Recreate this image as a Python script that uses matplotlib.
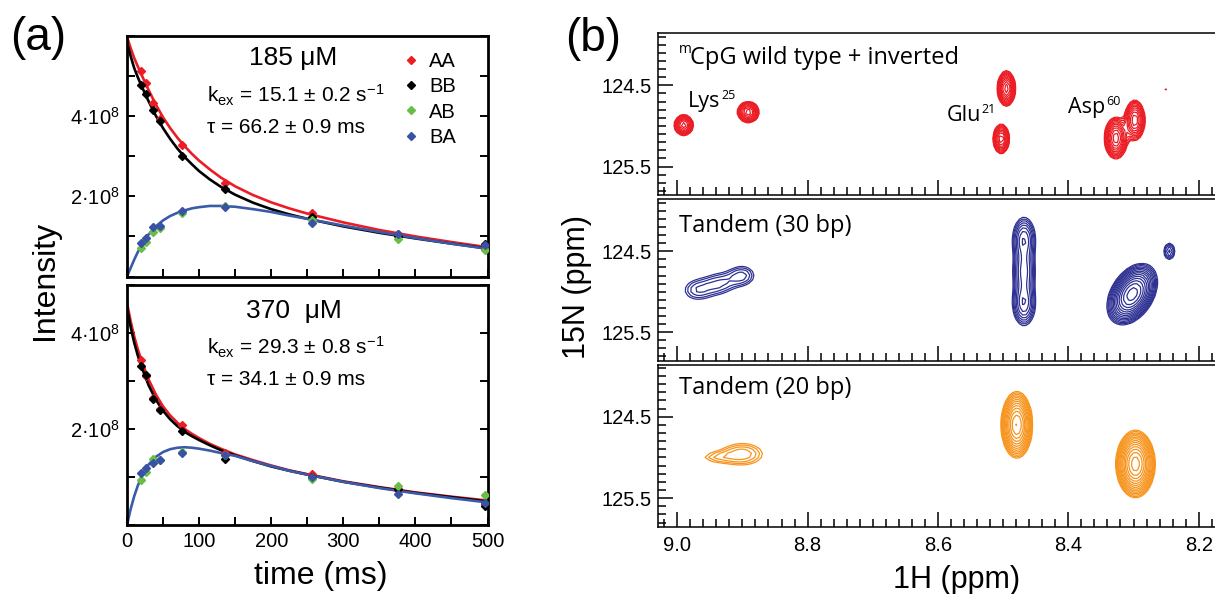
import numpy as np
import matplotlib
matplotlib.use('Agg')
import matplotlib.pyplot as plt
from matplotlib.ticker import MultipleLocator, FixedLocator, NullFormatter, FormatStrFormatter
from matplotlib.lines import Line2D

plt.rcParams['font.family'] = ['Liberation Sans', 'DejaVu Sans']
plt.rcParams['mathtext.fontset'] = 'custom'
plt.rcParams['mathtext.rm'] = 'Liberation Sans'
plt.rcParams['mathtext.it'] = 'Liberation Sans:italic'
plt.rcParams['mathtext.bf'] = 'Liberation Sans:bold'

W, H = 1215, 594

# ---------------- panel (a): exchange curves, intensity in units of 1e8
t_pts = [20, 26, 36, 46, 76, 136, 256, 376, 496]
aa_185 = [5.12, 4.83, 4.33, 3.92, 3.29, 2.33, 1.58, 1.07, 0.69]
bb_185 = [4.78, 4.55, 4.16, 3.88, 3.00, 2.19, 1.48, 1.00, 0.82]
ab_185 = [0.72, 0.86, 1.11, 1.20, 1.58, 1.75, 1.40, 0.94, 0.67]
ba_185 = [0.84, 0.95, 1.23, 1.27, 1.64, 1.73, 1.33, 1.07, 0.78]

aa_370 = [3.44, 3.10, 2.65, 2.42, 2.08, 1.50, 1.06, 0.73, 0.43]
bb_370 = [3.31, 3.12, 2.62, 2.39, 1.95, 1.38, 1.00, 0.75, 0.39]
ab_370 = [0.94, 1.10, 1.38, 1.36, 1.52, 1.45, 0.95, 0.81, 0.62]
ba_370 = [1.08, 1.19, 1.29, 1.35, 1.49, 1.45, 0.99, 0.65, 0.45]

t_fit = [0, 5, 10, 15, 20, 30, 40, 50, 60, 70, 80, 90, 100, 115, 130, 150,
         175, 200, 225, 250, 300, 350, 400, 450, 500]
fit_aa_185 = [5.98, 5.70, 5.45, 5.24, 5.04, 4.65, 4.29, 3.97, 3.70, 3.46, 3.25, 3.06, 2.89,
              2.67, 2.47, 2.25, 2.03, 1.85, 1.70, 1.57, 1.35, 1.16, 1.00, 0.86, 0.73]
fit_bb_185 = [5.85, 5.50, 5.20, 4.97, 4.76, 4.37, 4.01, 3.70, 3.43, 3.19, 2.98, 2.80, 2.63,
              2.42, 2.24, 2.04, 1.84, 1.68, 1.55, 1.44, 1.25, 1.09, 0.95, 0.82, 0.70]
fit_ab_185 = [0.00, 0.21, 0.42, 0.61, 0.78, 1.05, 1.25, 1.40, 1.51, 1.59, 1.65, 1.70, 1.73,
              1.76, 1.76, 1.74, 1.68, 1.61, 1.52, 1.44, 1.27, 1.11, 0.96, 0.82, 0.69]

fit_aa_370 = [4.63, 4.25, 3.93, 3.66, 3.43, 3.03, 2.72, 2.47, 2.28, 2.13, 2.00, 1.90, 1.81,
              1.69, 1.59, 1.47, 1.35, 1.24, 1.14, 1.06, 0.91, 0.79, 0.68, 0.59, 0.51]
fit_bb_370 = [4.54, 4.13, 3.80, 3.53, 3.30, 2.91, 2.61, 2.38, 2.20, 2.06, 1.94, 1.85, 1.77,
              1.66, 1.56, 1.45, 1.33, 1.22, 1.13, 1.05, 0.90, 0.78, 0.67, 0.58, 0.49]
fit_ab_370 = [0.00, 0.33, 0.60, 0.82, 1.00, 1.26, 1.42, 1.52, 1.58, 1.61, 1.62, 1.61, 1.59,
              1.55, 1.50, 1.44, 1.33, 1.23, 1.13, 1.05, 0.90, 0.77, 0.66, 0.56, 0.47]

RED, GREEN, BLUE_PT, BLUE_LN = '#ec1c24', '#6abd45', '#3953a4', '#3b5ba9'

# ---------------- panel (b): HSQC peaks (1H ppm, 15N ppm, widths, height, tilt)
wt_h = [8.990, 8.891, 8.495, 8.503, 8.327, 8.298, 8.252]
wt_n = [124.99, 124.83, 124.54, 125.16, 125.15, 124.93, 124.56]
wt_wh = [0.0078, 0.0088, 0.0070, 0.0066, 0.0090, 0.0082, 0.0035]
wt_wn = [0.066, 0.068, 0.110, 0.095, 0.130, 0.130, 0.035]
wt_amp = [6.0, 6.0, 7.0, 6.0, 7.0, 6.0, 1.3]
wt_tilt = [0, 0, 0, 0, 0, 0, 0]

t30_h = [8.970, 8.935, 8.900, 8.468, 8.468, 8.468, 8.302, 8.245]
t30_n = [124.98, 124.90, 124.80, 124.35, 124.75, 125.15, 125.03, 124.50]
t30_wh = [0.018, 0.018, 0.016, 0.011, 0.011, 0.011, 0.016, 0.0065]
t30_wn = [0.110, 0.110, 0.100, 0.170, 0.170, 0.170, 0.170, 0.080]
t30_amp = [1.6, 1.6, 1.8, 3.5, 3.0, 3.5, 12.0, 2.2]
t30_tilt = [0, 0, 0, 0, 0, 0, 0.04, 0]

t20_h = [8.900, 8.945, 8.479, 8.297]
t20_n = [124.96, 125.00, 124.60, 125.08]
t20_wh = [0.026, 0.020, 0.0115, 0.0135]
t20_wn = [0.110, 0.060, 0.195, 0.185]
t20_amp = [2.0, 1.0, 9.0, 12.0]
t20_tilt = [0, 0, 0, 0]

NMR_LEVELS = 1.2 ** np.arange(0, 16)
hx = np.arange(8.10, 9.10, 0.005)
ny = np.arange(123.60, 126.10, 0.05)
HX, NY = np.meshgrid(hx, ny)


def spectrum(h0, n0, wh, wn, amp, tilt):
    z = np.zeros_like(HX)
    for a, b, c, d, e, f in zip(h0, n0, wh, wn, amp, tilt):
        dx = HX - a - f * (NY - b)
        z += e * np.exp(-0.5 * (dx / c) ** 2 - 0.5 * ((NY - b) / d) ** 2)
    return z


def rect(left, top, right, bottom):
    return [left / W, 1 - bottom / H, (right - left) / W, (bottom - top) / H]


def ftext(x, y, s, **kw):
    return fig.text(x / W, 1 - y / H, s, **kw)


fig = plt.figure(figsize=(W / 100, H / 100), dpi=100)


def kinetics_panel(ax, ymax, fits, pts):
    for y, c in zip(fits, [RED, 'black', BLUE_LN]):
        ax.plot(t_fit, y, color=c, lw=1.9, zorder=2)
    for y, c in zip(pts, [RED, 'black', GREEN, BLUE_PT]):
        ax.plot(t_pts, y, ls='none', marker='D', ms=4.2, color=c, mec=c, zorder=3)
    ax.set_xlim(0, 500)
    ax.set_ylim(0, ymax)
    ax.xaxis.set_major_locator(MultipleLocator(100))
    ax.xaxis.set_minor_locator(MultipleLocator(50))
    ax.yaxis.set_major_locator(FixedLocator([2, 4]))
    ax.yaxis.set_minor_locator(MultipleLocator(1))
    ax.set_yticklabels(['2·10$^{8}$', '4·10$^{8}$'])
    ax.tick_params(which='both', direction='in', length=6, width=1.4,
                   right=True, top=False, labelsize=14.5)
    ax.tick_params(axis='y', pad=5)
    ax.tick_params(axis='x', pad=5)
    for s in ax.spines.values():
        s.set_linewidth(2.0)


ax1 = fig.add_axes(rect(127, 36, 487.5, 276.5))
kinetics_panel(ax1, 6.0, [fit_aa_185, fit_bb_185, fit_ab_185],
               [aa_185, bb_185, ab_185, ba_185])
ax1.xaxis.set_major_formatter(NullFormatter())
handles = [Line2D([], [], ls='none', marker='D', ms=4.5, color=c, mec=c)
           for c in [RED, 'black', GREEN, BLUE_PT]]
ax1.legend(handles, ['AA', 'BB', 'AB', 'BA'], loc='upper left',
           bbox_to_anchor=(0.765, 0.935), frameon=False, fontsize=14.5,
           handlelength=0.8, handletextpad=0.5, labelspacing=0.32,
           borderpad=0, borderaxespad=0)

ax2 = fig.add_axes(rect(127, 285, 487.5, 525))
kinetics_panel(ax2, 5.0, [fit_aa_370, fit_bb_370, fit_ab_370],
               [aa_370, bb_370, ab_370, ba_370])

ftext(10, 50, '(a)', fontsize=33, va='baseline')
ftext(293, 65, '185 μM', fontsize=19, ha='center', va='baseline')
ftext(207, 103, 'k$_{\\rm ex}$ = 15.1 ± 0.2 s$^{-1}$', fontsize=15, va='baseline')
ftext(207, 133, 'τ = 66.2 ± 0.9 ms', fontsize=15, va='baseline')
ftext(294, 318, '370  μM', fontsize=19, ha='center', va='baseline')
ftext(207, 355, 'k$_{\\rm ex}$ = 29.3 ± 0.8 s$^{-1}$', fontsize=15, va='baseline')
ftext(207, 385, 'τ = 34.1 ± 0.9 ms', fontsize=15, va='baseline')
ftext(45, 280, 'Intensity', fontsize=23, rotation=90, ha='center', va='center')
ftext(321, 584, 'time (ms)', fontsize=23, ha='center', va='baseline')

# ---------------- panel (b)
nmr = [
    ((33.3, 195.0), spectrum(wt_h, wt_n, wt_wh, wt_wn, wt_amp, wt_tilt), RED),
    ((199.5, 360.5), spectrum(t30_h, t30_n, t30_wh, t30_wn, t30_amp, t30_tilt), '#2e3192'),
    ((364.5, 526.7), spectrum(t20_h, t20_n, t20_wh, t20_wn, t20_amp, t20_tilt), '#f7941d'),
]
nmr_axes = []
for (top, bottom), z, col in nmr:
    ax = fig.add_axes(rect(658.3, top, 1215, bottom))
    ax.contour(HX, NY, z, levels=NMR_LEVELS, colors=col, linewidths=0.9)
    ax.set_xlim(9.029, 8.175)
    ax.set_ylim(125.85, 123.86)
    ax.xaxis.set_major_locator(MultipleLocator(0.2))
    ax.xaxis.set_minor_locator(MultipleLocator(0.02))
    ax.yaxis.set_major_locator(FixedLocator([124.5, 125.5]))
    ax.yaxis.set_minor_locator(MultipleLocator(0.1))
    ax.xaxis.set_major_formatter(FormatStrFormatter('%.1f'))
    ax.yaxis.set_major_formatter(FormatStrFormatter('%.1f'))
    ax.tick_params(which='major', direction='in', length=11, width=1.1, labelsize=14.5)
    ax.tick_params(which='minor', direction='in', length=5.5, width=1.1)
    ax.tick_params(axis='y', pad=5)
    ax.tick_params(axis='x', pad=7)
    ax.spines['right'].set_visible(False)
    for s in ['left', 'top', 'bottom']:
        ax.spines[s].set_linewidth(1.1)
    nmr_axes.append(ax)
for ax in nmr_axes[:2]:
    ax.xaxis.set_major_formatter(NullFormatter())

ftext(565, 51, '(b)', fontsize=33, va='baseline')
NMR_FONT = ['Open Sans', 'DejaVu Sans']
ftext(690, 64, 'CpG wild type + inverted', fontsize=17, va='baseline', family=NMR_FONT)
ftext(679.3, 53, 'm', fontsize=10, va='baseline', family=NMR_FONT)
for x, y, name, sup in [(688.3, 107.3, 'Lys', '25'), (946.7, 120.7, 'Glu', '21'),
                        (1068.3, 113.3, 'Asp', '60')]:
    lab = ftext(x, y, name, fontsize=15.5, va='baseline', family=NMR_FONT)
    nmr_axes[0].annotate(sup, xy=(1, 0), xycoords=lab, xytext=(0.3, 9.5),
                         textcoords='offset points', fontsize=9, va='baseline',
                         family=NMR_FONT, annotation_clip=False)
ftext(679.3, 231.7, 'Tandem (30 bp)', fontsize=17, va='baseline', family=NMR_FONT)
ftext(679.3, 394, 'Tandem (20 bp)', fontsize=17, va='baseline', family=NMR_FONT)
ftext(577, 287, '15N (ppm)', fontsize=22, rotation=90, ha='center', va='center')
ftext(956.7, 588, '1H (ppm)', fontsize=22, ha='center', va='baseline')

fig.savefig('out.png', dpi=100)
